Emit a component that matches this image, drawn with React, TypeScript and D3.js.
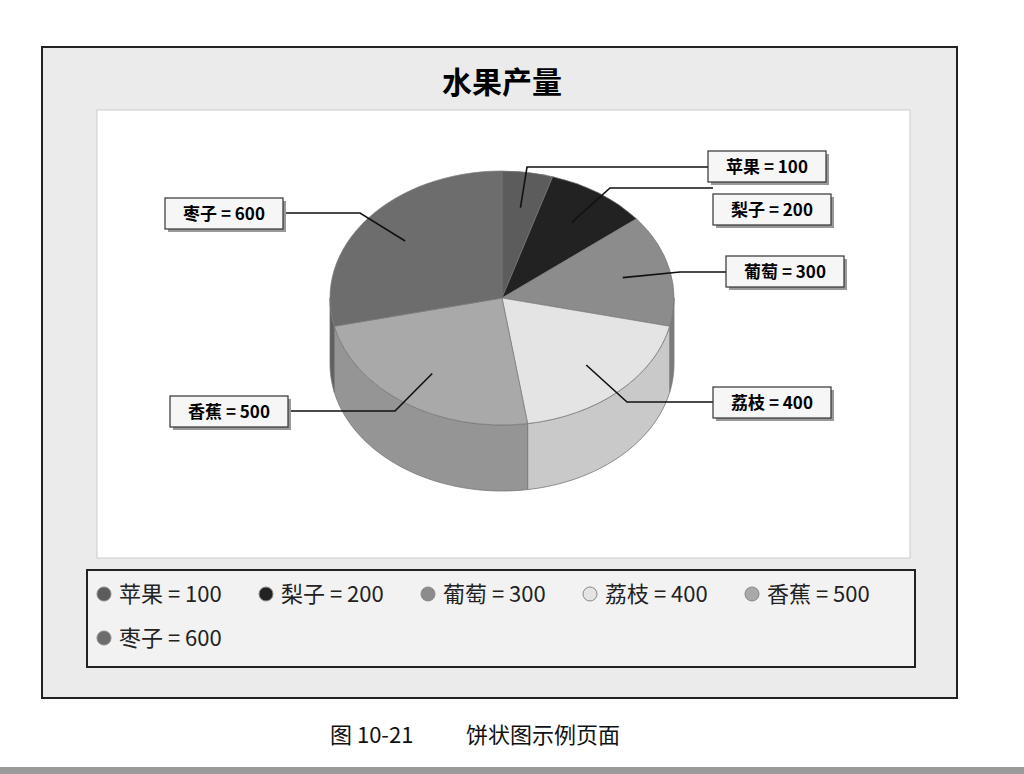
import React from 'react';
import * as d3 from 'd3';

const fruits = ['苹果', '梨子', '葡萄', '荔枝', '香蕉', '枣子'];
const amounts = [100, 200, 300, 400, 500, 600];
const colors = ['#5c5c5c', '#222222', '#8c8c8c', '#e4e4e4', '#a9a9a9', '#6d6d6d'];

// label box layout (left, top) and elbow point, per slice
const labelLayout = [
  { bx: 708, by: 151, ex: 527, ey: 167, side: 'l' },
  { bx: 713, by: 194, ex: 610, ey: 188, side: 'l' },
  { bx: 726, by: 256, ex: 680, ey: 272, side: 'l' },
  { bx: 713, by: 387, ex: 627, ey: 402, side: 'l' },
  { bx: 170, by: 396, ex: 395, ey: 411, side: 'r' },
  { bx: 165, by: 198, ex: 360, ey: 213, side: 'r' },
];

const cx = 502, cy = 298, rx = 172, ry = 127, depth = 66;
const font = '"Noto Sans CJK SC", "Liberation Sans", sans-serif';

const pt = (a: number, k = 1): [number, number] => [cx + Math.sin(a) * rx * k, cy - Math.cos(a) * ry * k];

export default function App() {
  const slices = d3.pie<number>().sort(null).startAngle(0).endAngle(2 * Math.PI)(amounts);
  const arc = d3.arc<d3.PieArcDatum<number>>().innerRadius(0).outerRadius(rx);

  // side walls: front half is angle in [PI/2, 3PI/2]
  const sides = slices.map((s, i) => {
    const a0 = Math.max(s.startAngle, Math.PI / 2);
    const a1 = Math.min(s.endAngle, 1.5 * Math.PI);
    if (a1 <= a0) return null;
    const n = 40;
    const top = d3.range(n + 1).map(k => pt(a0 + ((a1 - a0) * k) / n));
    const bottom = top.slice().reverse().map(([x, y]) => [x, y + depth] as [number, number]);
    const d = d3.line()([...top, ...bottom]) + 'Z';
    return <path key={i} d={d} fill={d3.color(colors[i])!.darker(0.35).toString()} stroke="#777" strokeWidth={0.8} />;
  });

  const legendX = d3.scaleLinear().domain([0, 1]).range([104, 266]);

  return (
    <svg width={1024} height={774} style={{ position: 'absolute', left: 0, top: 0, background: '#fff' }}>
      <rect x={42} y={47} width={915} height={651} fill="#ebebeb" stroke="#222" strokeWidth={2} />
      <text x={502} y={93} textAnchor="middle" fontFamily={font} fontSize={30} fontWeight="bold">水果产量</text>
      <rect x={97} y={110} width={813} height={448} fill="#fff" stroke="#ccc" />

      {sides}
      <g transform={`translate(${cx},${cy}) scale(1,${ry / rx})`}>
        {slices.map((s, i) => (
          <path key={i} d={arc(s) || ''} fill={colors[i]} stroke="#777" strokeWidth={0.8} />
        ))}
      </g>

      {slices.map((s, i) => {
        const L = labelLayout[i];
        const mid = (s.startAngle + s.endAngle) / 2;
        const [ax, ay] = pt(mid, 0.72);
        const bw = 118, bh = 31;
        const edgeX = L.side === 'l' ? L.bx : L.bx + bw;
        const d = d3.line()([[ax, ay], [L.ex, L.ey], [edgeX, L.ey]]);
        return (
          <g key={i}>
            <path d={d || ''} fill="none" stroke="#111" strokeWidth={1.6} />
            <rect x={L.bx + 3} y={L.by + 3} width={bw} height={bh} fill="#999" />
            <rect x={L.bx} y={L.by} width={bw} height={bh} fill="#f6f6f6" stroke="#333" strokeWidth={1.2} />
            <text x={L.bx + bw / 2} y={L.by + 22} textAnchor="middle" fontFamily={font} fontSize={17} fontWeight="bold">
              {`${fruits[i]} = ${amounts[i]}`}
            </text>
          </g>
        );
      })}

      <rect x={87} y={570} width={828} height={97} fill="#f2f2f2" stroke="#222" strokeWidth={2} />
      {fruits.map((f, i) => {
        const col = i % 5, row = Math.floor(i / 5);
        const x = legendX(col), y = 594 + row * 44;
        return (
          <g key={f}>
            <circle cx={x} cy={y} r={7} fill={colors[i]} stroke="#888" />
            <text x={x + 15} y={y + 8} fontFamily={font} fontSize={22} fill="#222">{`${f} = ${amounts[i]}`}</text>
          </g>
        );
      })}

      <text x={330} y={743} fontFamily={font} fontSize={22} fill="#111">图 10-21</text>
      <text x={466} y={743} fontFamily={font} fontSize={22} fill="#111">饼状图示例页面</text>
      <rect x={0} y={767} width={1024} height={7} fill="#9a9a9a" />
    </svg>
  );
}
